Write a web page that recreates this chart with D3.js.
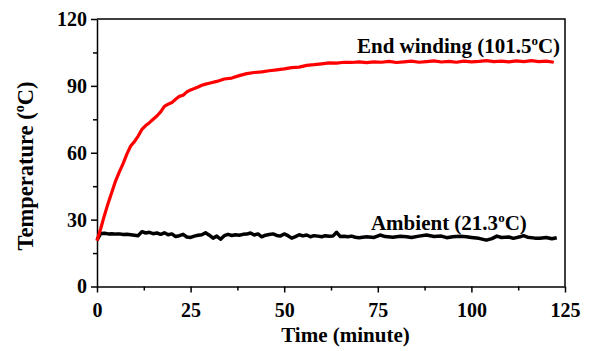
<!DOCTYPE html>
<html>
<head>
<meta charset="utf-8">
<script src="https://cdn.jsdelivr.net/npm/d3@7"></script>
<style>
  html, body { margin: 0; padding: 0; background: #fff; overflow: hidden; }
  svg { display: block; overflow: visible; }
  text { font-family: "Liberation Serif", "Times New Roman", serif; font-weight: bold; fill: #000; }
</style>
</head>
<body>
<div id="chart"></div>
<script>
// End winding temperature
const windingTime = [0,1,2,3,4,5,6,7,8,9,10,11,12,13,14,15,16,17,18,19,20,21,22,23,24,25,26,27,28,29,30,32,34,36,38,40,42,44,46,48,50,52,54,56,58,60,62,64,66,68,70,72,74,76,78,80,82,84,86,88,90,92,94,96,98,100,102,104,106,108,110,112,114,116,118,120,122];
const windingTemp = [20.5,26,32,37.5,42.5,47.5,51.5,55.2,59.5,63,65,67.5,70.5,72.2,73.5,75,76.5,78.3,80.8,81.8,82.5,84,85.3,85.8,87.3,88.2,88.8,89.5,90.3,90.8,91.2,92,93.1,93.5,94.6,95.5,96,96.3,96.8,97.2,97.6,98.2,98.4,99.2,99.5,99.9,100.3,100.2,100.6,100.5,100.8,100.4,100.8,100.6,101,100.5,100.8,101.1,100.6,100.9,101.2,100.7,101,100.6,101.1,100.8,101,101.3,100.9,101.1,100.8,101.2,100.9,101.3,100.9,101.1,100.6];

// Ambient temperature
const ambientTime = [0,1,2,3,4,5,6,7,8,9,10,11,12,13,14,15,16,17,18,19,20,21,22,23,24,25,26,27,28,29,30,31,32,33,34,35,36,37,38,39,40,41,42,43,44,45,46,47,48,49,50,51,52,53,54,55,56,57,58,59,60,61,62,63,64,65,66,67,68,69,70,72,74,75.6,77,79,81,82.7,84,86,88,90,92,93.4,95,97,98.7,100,102,104,105.5,106.8,108,110,111.2,113,113.9,115,117,118.3,120,121.5,122.8];
const ambientTemp = [20.8,23.8,23.9,23.6,23.7,23.5,23.6,23.3,23.4,23.2,23.0,22.8,24.6,24.0,24.3,23.7,24.0,23.4,24.1,23.2,23.6,22.4,22.8,23.4,22.2,22.0,22.6,23.0,23.2,24.1,23.0,21.7,22.6,21.2,22.8,23.4,22.9,23.2,23.0,23.4,23.5,24.0,23.1,23.6,22.3,23.0,23.3,23.6,22.9,22.6,23.6,22.8,21.7,22.4,23.2,22.7,23.1,22.3,22.8,22.6,22.3,22.8,22.5,22.6,24.3,22.4,22.5,22.3,22.6,22.1,21.9,22.3,22.0,23.1,22.4,22.1,22.5,22.3,22.0,22.6,23.1,22.4,22.6,21.9,22.3,22.5,22.3,22.0,21.6,20.8,21.5,22.6,22.0,22.2,21.6,22.3,22.8,22.1,21.7,21.6,22.0,21.4,21.9];

const xTicks = [0,25,50,75,100,125];
const yTicks = [0,30,60,90,120];

const width = 592, height = 351;
const margin = {top: 19, right: 27, bottom: 64.5, left: 97};
const innerWidth = width - margin.left - margin.right
, innerHeight = height - margin.top - margin.bottom;

const svg = d3.select("#chart").append("svg")
  .attr("width", width)
  .attr("height", height);

const g = svg.append("g")
  .attr("transform", `translate(${margin.left},${margin.top})`);

const xScale = d3.scaleLinear().domain([0, 125]).range([0, innerWidth]);
const yScale = d3.scaleLinear().domain([0, 120]).range([innerHeight, 0]);

// minor ticks first (no labels), then major ones with labels
g.append("g")
  .attr("transform", `translate(0,${innerHeight})`)
  .call(d3.axisBottom(xScale).tickValues(d3.range(12.5, 125, 25)).tickSize(4))
  .call(a => a.select(".domain").remove())
  .call(a => a.selectAll(".tick text").remove());
g.append("g")
  .call(d3.axisLeft(yScale).tickValues(d3.range(15, 120, 30)).tickSize(4))
  .call(a => a.select(".domain").remove())
  .call(a => a.selectAll(".tick text").remove());

const xAxisG = g.append("g")
  .attr("transform", `translate(0,${innerHeight})`)
  .call(d3.axisBottom(xScale).tickValues(xTicks).tickSize(6).tickSizeOuter(0).tickPadding(10));
const yAxisG = g.append("g")
  .call(d3.axisLeft(yScale).tickValues(yTicks).tickSize(6).tickSizeOuter(0).tickPadding(4));

g.selectAll(".tick line").attr("stroke-width", 1.5);
g.selectAll(".domain").attr("stroke-width", 1.5);
xAxisG.selectAll("text").style("font-size", "20px");
yAxisG.selectAll("text").style("font-size", "20px");

// frame on top and right
g.append("path")
  .attr("d", `M0,0H${innerWidth}V${innerHeight}`)
  .attr("fill", "none")
  .attr("stroke", "#000")
  .attr("stroke-width", 1.5);

// Lines
const windingData = windingTime.map((t, i) => ({t: t, v: windingTemp[i]}));
const ambientData = ambientTime.map((t, i) => ({t: t, v: ambientTemp[i]}));

const line = d3.line()
  .x(d => xScale(d.t))
  .y(d => yScale(d.v));

g.append("path")
  .attr("d", line(ambientData))
  .attr("fill", "none")
  .attr("stroke", "#000")
  .attr("stroke-width", 3.5)
  .attr("stroke-linejoin", "round");

g.append("path")
  .attr("d", line(windingData))
  .attr("fill", "none")
  .attr("stroke", "#ff0000")
  .attr("stroke-width", 3.2)
  .attr("stroke-linejoin", "round");

// axis titles
svg.append("text")
  .attr("x", 345.5)
  .attr("y", 341.5)
  .attr("text-anchor", "middle")
  .style("font-size", "21px")
  .text("Time (minute)");

const yTitle = svg.append("text")
  .attr("transform", `translate(33,166) rotate(-90)`)
  .attr("text-anchor", "middle")
  .style("font-size", "22.5px");
yTitle.append("tspan").text("Temperature (");
yTitle.append("tspan").attr("dy", -9).style("font-size", "14px").text("o");
yTitle.append("tspan").attr("dy", 9).text("C)");

// curve annotations
function label(tx, ty, main, value) {
  const t = g.append("text")
    .attr("x", xScale(tx))
    .attr("y", yScale(ty))
    .attr("text-anchor", "end")
    .style("font-size", "21px");
  t.append("tspan").text(main + " (" + value);
  t.append("tspan").attr("dy", -8).style("font-size", "13px").text("o");
  t.append("tspan").attr("dy", 8).text("C)");
}
label(123.7, 104.7, "End winding", "101.5");
label(114.8, 25.3, "Ambient", "21.3");
</script>
</body>
</html>
